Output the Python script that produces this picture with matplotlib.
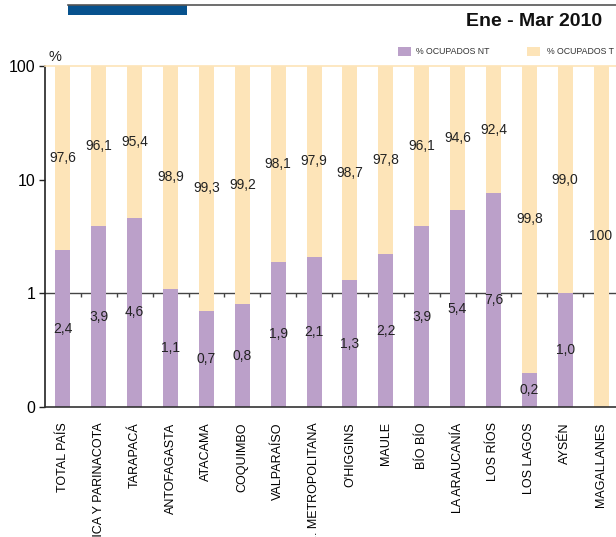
import numpy as np
import matplotlib
matplotlib.use("Agg")
import matplotlib.pyplot as plt
from matplotlib.patches import Rectangle
from matplotlib.lines import Line2D

plt.rcParams['font.family'] = ['Liberation Sans', 'DejaVu Sans']

categories = ["TOTAL PAÍS", "ARICA Y PARINACOTA", "TARAPACÁ", "ANTOFAGASTA", "ATACAMA",
              "COQUIMBO", "VALPARAÍSO", "R. METROPOLITANA", "O'HIGGINS", "MAULE",
              "BÍO BÍO", "LA ARAUCANÍA", "LOS RÍOS", "LOS LAGOS", "AYSÉN", "MAGALLANES"]
ocupados_nt = [2.4, 3.9, 4.6, 1.1, 0.7, 0.8, 1.9, 2.1, 1.3, 2.2, 3.9, 5.4, 7.6, 0.2, 1.0, 0.0]
ocupados_t = [97.6, 96.1, 95.4, 98.9, 99.3, 99.2, 98.1, 97.9, 98.7, 97.8, 96.1, 94.6, 92.4, 99.8, 99.0, 100.0]
ytick_vals = [0.1, 1, 10, 100]
ytick_labels = ["0", "1", "10", "100"]
title = "Ene - Mar 2010"
legend_labels = ["% OCUPADOS NT", "% OCUPADOS T"]

PURPLE = "#BBA0C9"
YELLOW = "#FDE4B8"
BLUE = "#07528E"

W, H = 616, 537
fig = plt.figure(figsize=(W / 100, H / 100), dpi=100)
ax = fig.add_axes([45 / W, (H - 407) / H, 574 / W, 341 / H])

ymin, ymax = ytick_vals[0], ytick_vals[-1]
x = np.arange(len(categories))
nt = np.array(ocupados_nt)
t = np.array(ocupados_t)
bw = 0.42

nt_bottom = np.full_like(nt, ymin)
nt_h = np.where(nt > ymin, nt - ymin, 0)
ax.bar(x, nt_h, bw, bottom=nt_bottom, color=PURPLE, linewidth=0, zorder=2)
t_bottom = np.maximum(nt, ymin)
t_h = nt + t - t_bottom
ax.bar(x, t_h, bw, bottom=t_bottom, color=YELLOW, linewidth=0, zorder=2)

def fmt(v):
    if v == 100:
        return "100"
    return f"{v:.1f}".replace(".", ",")

for i in range(len(categories)):
    if nt[i] > 0:
        yc = np.sqrt(ymin * nt[i])
        ax.text(x[i], yc, fmt(nt[i]), ha="center", va="center", fontsize=10,
                color="#222222", zorder=4)
    lo = max(nt[i], ymin)
    hi = nt[i] + t[i]
    yc = np.sqrt(lo * hi)
    ax.text(x[i], yc, fmt(t[i]), ha="center", va="center", fontsize=10,
            color="#222222", zorder=4)

ax.set_yscale("log")
ax.set_ylim(ymin, ymax)
ax.set_xlim(-0.5, len(categories) - 0.5)
ax.set_yticks(ytick_vals)
ax.set_yticklabels(ytick_labels, fontsize=11.5)
ax.yaxis.set_minor_locator(matplotlib.ticker.NullLocator())
ax.tick_params(axis="y", length=4, width=1, direction="out", pad=3, color="#222222")
ax.set_xticks(x)
ax.set_xticklabels(categories, rotation=90, fontsize=9, va="top", ha="center")
ax.tick_params(axis="x", length=0, pad=11)

ax.spines["right"].set_visible(False)
ax.spines["top"].set_color(YELLOW)
ax.spines["top"].set_linewidth(1.2)
ax.spines["left"].set_color("#222222")
ax.spines["left"].set_linewidth(1.2)
ax.spines["bottom"].set_color("#333333")
ax.spines["bottom"].set_linewidth(1.2)

# category axis crossing at 1 (behind bars)
ax.axhline(1, color="#444444", lw=1.0, zorder=1)
bounds = x[:-1] + 0.5
ax.vlines(bounds, 10 ** (-4 / 113), 1, color="#444444", lw=1.0, zorder=1)

ax.text(0.006, 1.005, "%", transform=ax.transAxes, fontsize=10.5, ha="left", va="bottom",
        color="#222222")

# header
fig.add_artist(Line2D([68 / W, 1], [1 - 5 / H, 1 - 5 / H], color="#555555", lw=1.2))
fig.add_artist(Rectangle((68 / W, 1 - 15 / H), 119 / W, 10 / H, color=BLUE, lw=0))
fig.text(602 / W, 1 - 22 / H, title, ha="right", va="center", fontsize=14,
         fontweight="bold", color="#111111")

# legend
for (xs, xt, c, lab) in [(398, 416, PURPLE, legend_labels[0]), (527, 547, YELLOW, legend_labels[1])]:
    fig.add_artist(Rectangle((xs / W, 1 - 56 / H), 13 / W, 9 / H, color=c, lw=0))
    fig.text(xt / W, 1 - 51.5 / H, lab, ha="left", va="center", fontsize=6.3, color="#333333")

fig.savefig("out.png", dpi=100)
